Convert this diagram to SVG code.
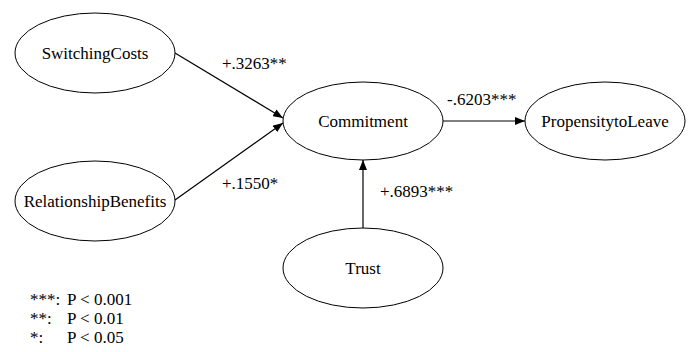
<svg xmlns="http://www.w3.org/2000/svg" width="689" height="352" viewBox="0 0 689 352">
<style>
.node ellipse{fill:#fff;stroke:#000;stroke-width:1}
.edge{stroke:#000;stroke-width:1.2;fill:none;marker-end:url(#arr)}
</style>
<defs>
<marker id="arr" viewBox="0 0 10 8" refX="10" refY="4" markerWidth="10" markerHeight="8" markerUnits="userSpaceOnUse" orient="auto">
<path d="M0,0 L10,4 L0,8 Z" fill="#000"/>
</marker>
</defs>
<rect width="689" height="352" fill="#fff"/>
<g font-family="'Liberation Serif', 'Times New Roman', serif" font-size="17" fill="#000">
<g id="connectors">
<line class="edge" x1="175" y1="53" x2="283" y2="118"/>
<line class="edge" x1="175" y1="200" x2="283" y2="123"/>
<line class="edge" x1="443" y1="121" x2="525" y2="121"/>
<line class="edge" x1="363" y1="228" x2="363" y2="160"/>
<text x="222" y="69">+.3263**</text>
<text x="222" y="189">+.1550*</text>
<text x="447" y="105">-.6203***</text>
<text x="380" y="197">+.6893***</text>
</g>
<g id="SwitchingCosts" class="node" text-anchor="middle"><ellipse cx="95" cy="53" rx="80" ry="40"/><text x="95" y="59">SwitchingCosts</text></g>
<g id="RelationshipBenefits" class="node" text-anchor="middle"><ellipse cx="95" cy="201" rx="80" ry="40"/><text x="95" y="207">RelationshipBenefits</text></g>
<g id="Commitment" class="node" text-anchor="middle"><ellipse cx="363" cy="121" rx="80" ry="39"/><text x="363" y="127">Commitment</text></g>
<g id="PropensitytoLeave" class="node" text-anchor="middle"><ellipse cx="605" cy="121" rx="80" ry="39"/><text x="605" y="127">PropensitytoLeave</text></g>
<g id="Trust" class="node" text-anchor="middle"><ellipse cx="363" cy="268" rx="80" ry="40"/><text x="363" y="274">Trust</text></g>
<g id="legend">
<text x="30" y="305">***: <tspan x="67">P &lt; 0.001</tspan></text>
<text x="30" y="324">**: <tspan x="67">P &lt; 0.01</tspan></text>
<text x="30" y="343">*: <tspan x="67">P &lt; 0.05</tspan></text>
</g>
</g>
</svg>
